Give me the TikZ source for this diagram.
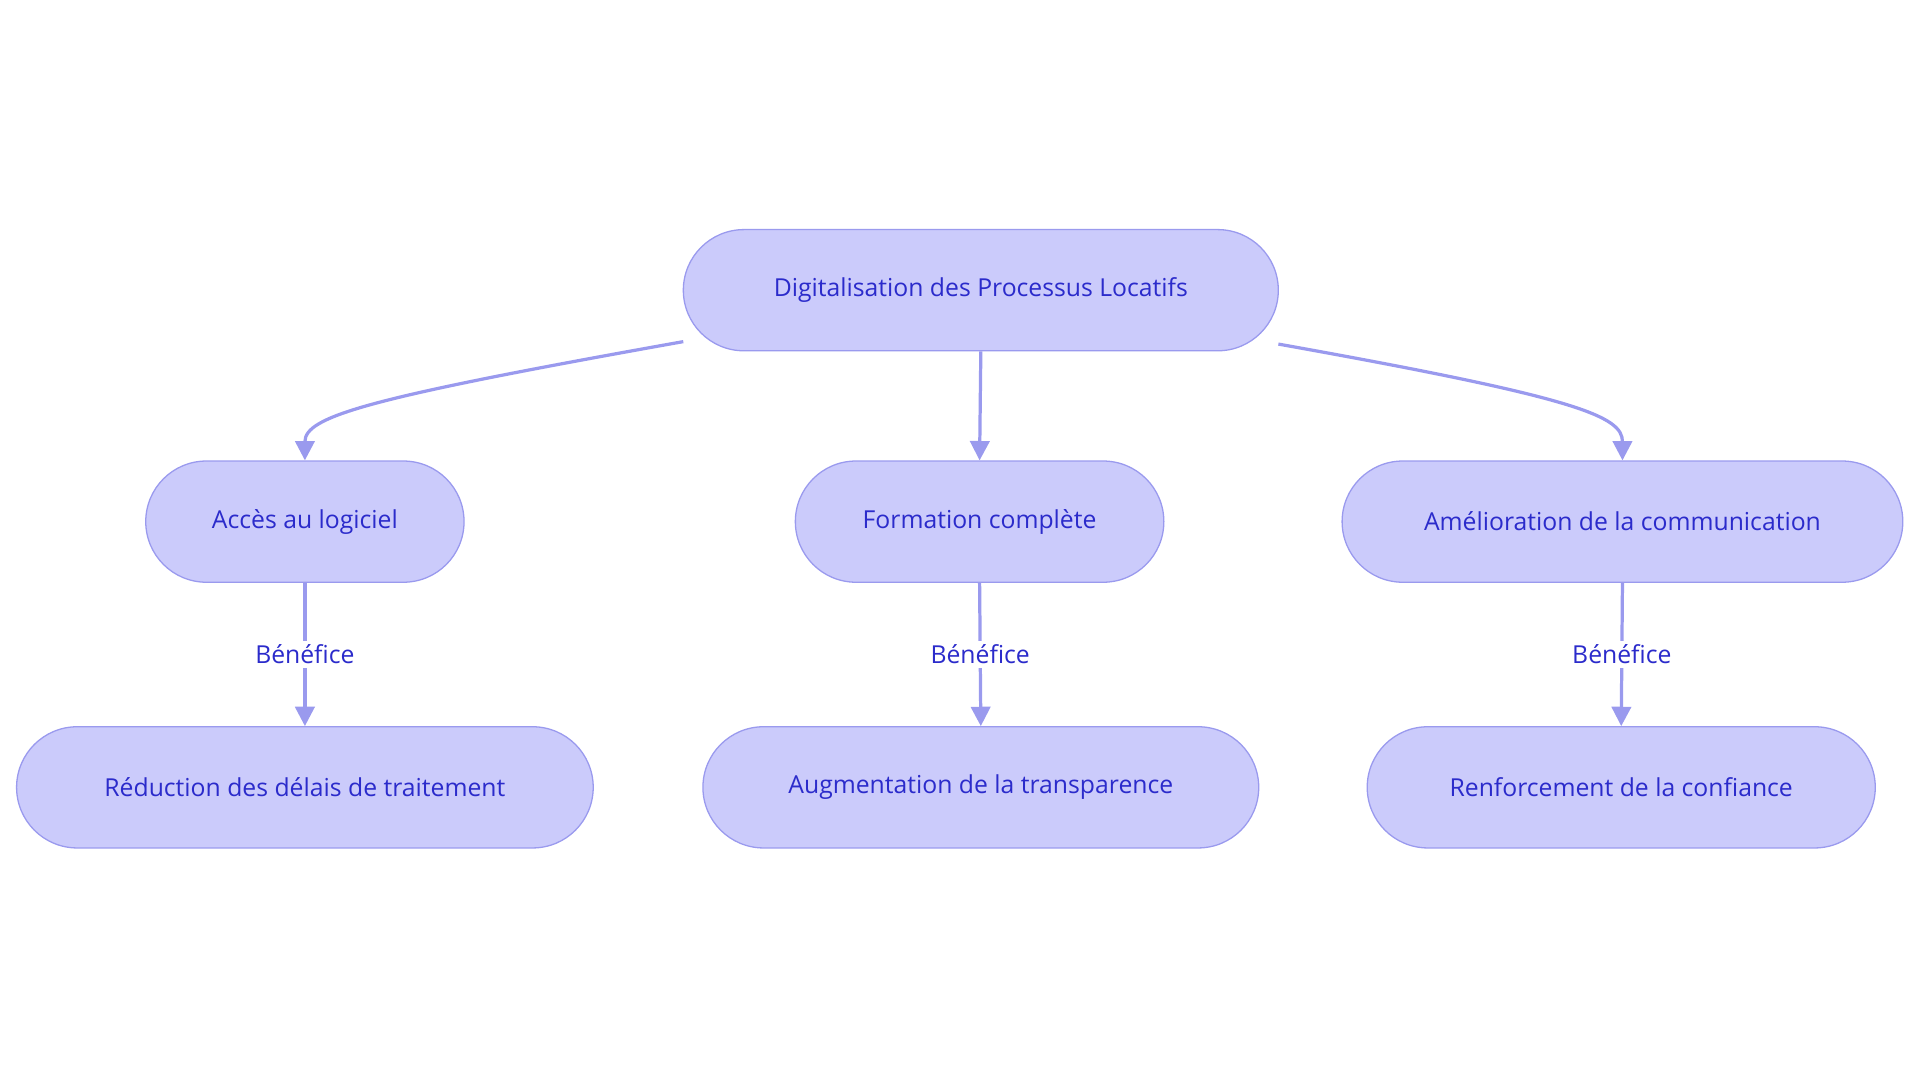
\documentclass[tikz,border=0pt]{standalone}
\usepackage{fontspec}
\setmainfont{Open Sans}
\usetikzlibrary{arrows.meta}
\definecolor{nfill}{HTML}{CBCBFB}
\definecolor{nline}{HTML}{9A9AEE}
\definecolor{ntext}{HTML}{2B2BCB}
\begin{document}
\begin{tikzpicture}[x=0.02cm,y=-0.02cm,
  box/.style={draw=nline,fill=nfill,rounded corners=0.99cm,line width=0.6pt,text=ntext,font=\fontsize{11.5}{14}\selectfont,minimum height=1.98cm,inner sep=0pt},
  conn/.style={draw=nline,line width=1.5pt,-{Triangle[length=9pt,width=9pt]}},
  lbl/.style={fill=white,text=ntext,font=\fontsize{11.5}{14}\selectfont,inner sep=2pt}]
\useasboundingbox (0,0) rectangle (1568,884);
\node[box,minimum width=9.72cm] (top) at (801,237) {Digitalisation des Processus Locatifs};
\node[box,minimum width=5.2cm] (a) at (249,426) {Accès au logiciel};
\node[box,minimum width=6.02cm] (b) at (800,426) {Formation complète};
\node[box,minimum width=9.16cm] (c) at (1325,426) {Amélioration de la communication};
\node[box,minimum width=9.42cm] (a2) at (249,643) {Réduction des délais de traitement};
\node[box,minimum width=9.08cm] (b2) at (801,643) {Augmentation de la transparence};
\node[box,minimum width=8.3cm] (c2) at (1324,643) {Renforcement de la confiance};
\coordinate (tl) at (558,279);
\coordinate (tr) at (1044,281);
\draw[conn] (tl) .. controls (300,325) and (249,340) .. (a.north);
\draw[conn] (top.south) -- (b.north);
\draw[conn] (tr) .. controls (1290,325) and (1325,340) .. (c.north);
\draw[conn] (a.south) -- node[lbl] (la) {Bénéfice} (a2.north);
\draw[conn] (b.south) -- node[lbl] (lb) {Bénéfice} (b2.north);
\draw[conn] (c.south) -- node[lbl] (lc) {Bénéfice} (c2.north);
\end{tikzpicture}
\end{document}
